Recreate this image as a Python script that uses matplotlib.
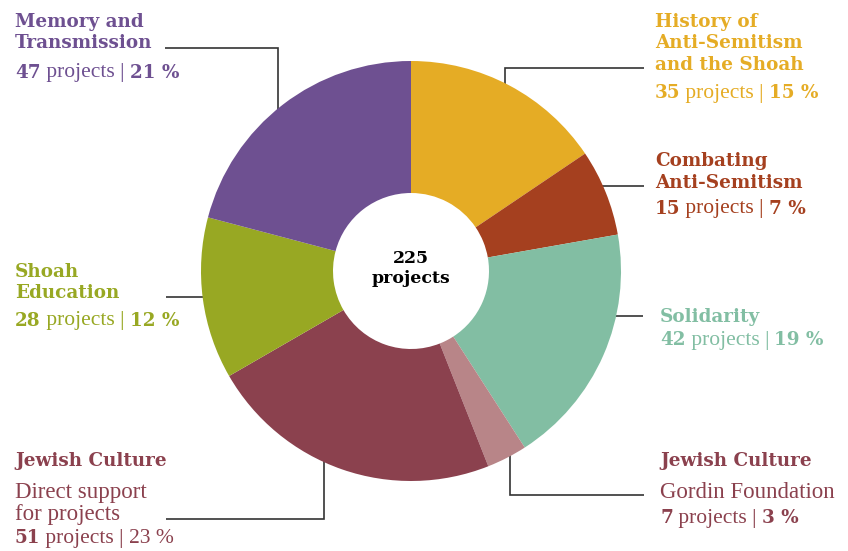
import matplotlib
matplotlib.use("Agg")
import matplotlib.pyplot as plt

# ---- data (clockwise from top) ----
categories = ["History of\nAnti-Semitism\nand the Shoah", "Combating\nAnti-Semitism", "Solidarity",
              "Jewish Culture", "Jewish Culture", "Shoah\nEducation", "Memory and\nTransmission"]
subtitles = ["", "", "", "Gordin Foundation", "Direct support\nfor projects", "", ""]
counts = [35, 15, 42, 7, 51, 28, 47]
percents = [15, 7, 19, 3, 23, 12, 21]
total_label = ["225", "projects"]
colors = ["#E5AC25", "#A5401F", "#82BEA3", "#B88588", "#8B414E", "#98A823", "#6E5091"]
text_colors = ["#E5AC25", "#A5401F", "#82BEA3", "#8B414E", "#8B414E", "#98A823", "#6E5091"]
pct_bold = [True, True, True, True, False, True, True]

W, H = 848, 551
fig = plt.figure(figsize=(W / 100, H / 100), dpi=100)
ax = fig.add_axes([0, 0, 1, 1])

CX, CY, R = 411, 271, 210
ax.pie(counts, colors=colors, radius=R, center=(CX, CY), startangle=-90, counterclock=True,
       wedgeprops=dict(width=132, linewidth=0))
ax.set_xlim(0, W)
ax.set_ylim(H, 0)
ax.set_aspect('auto')
ax.axis('off')

BOLD = "DejaVu Serif"
LIGHT = "Liberation Serif"
HS = 13.2
LS = 15.5
SS = 16.5
LINE = 21.5

# center label
ax.text(CX, 263, total_label[0], ha='center', va='baseline', fontsize=12.5, fontweight='bold',
        family=BOLD, color='black')
ax.text(CX, 283, total_label[1], ha='center', va='baseline', fontsize=12.5, fontweight='bold',
        family=BOLD, color='black')


def style(weight):
    if weight == 'bold':
        return dict(fontsize=HS, fontweight='bold', family=BOLD)
    return dict(fontsize=LS, fontweight='normal', family=LIGHT)


def rich(x, y, parts, color):
    prev = None
    for txt, weight in parts:
        if prev is None:
            prev = ax.text(x, y, txt, ha='left', va='baseline', color=color, **style(weight))
        else:
            prev = ax.annotate(txt, xy=(1, y), xycoords=(prev, 'data'), ha='left', va='baseline',
                               color=color, **style(weight))


def label(i, x, y0, stat_gap=29):
    c = text_colors[i]
    y = y0
    for ln in categories[i].split("\n"):
        ax.text(x, y, ln, ha='left', va='baseline', color=c, **style('bold'))
        y += LINE
    y -= LINE
    if subtitles[i]:
        y += 32
        for ln in subtitles[i].split("\n"):
            ax.text(x, y, ln, ha='left', va='baseline', color=c, fontsize=SS, family=LIGHT)
            y += 22
        y -= 22
    y += stat_gap
    pw = 'bold' if pct_bold[i] else 'light'
    rich(x, y, [(str(counts[i]), 'bold'), (" projects | ", 'light'), (f"{percents[i]} %", pw)], c)


label(0, 655, 27, stat_gap=28)
label(1, 655, 166, stat_gap=26)
label(2, 660, 322, stat_gap=23)
label(3, 660, 466, stat_gap=25)
label(4, 15, 466, stat_gap=23)
label(5, 15, 277, stat_gap=27)
label(6, 15, 27, stat_gap=29)

# leader lines
lc = dict(color="#333333", lw=1.2, zorder=0.5, solid_capstyle='butt', solid_joinstyle='miter')
ax.plot([165, 278, 278], [47.5, 47.5, 120], **lc)
ax.plot([644, 505, 505], [68, 68, 95], **lc)
ax.plot([590, 644], [186, 186], **lc)
ax.plot([600, 643], [316, 316], **lc)
ax.plot([510, 510, 644], [440, 495, 495], **lc)
ax.plot([324, 324, 166], [460, 519, 519], **lc)
ax.plot([166, 215], [297, 297], **lc)

fig.savefig("out.png", dpi=100)
